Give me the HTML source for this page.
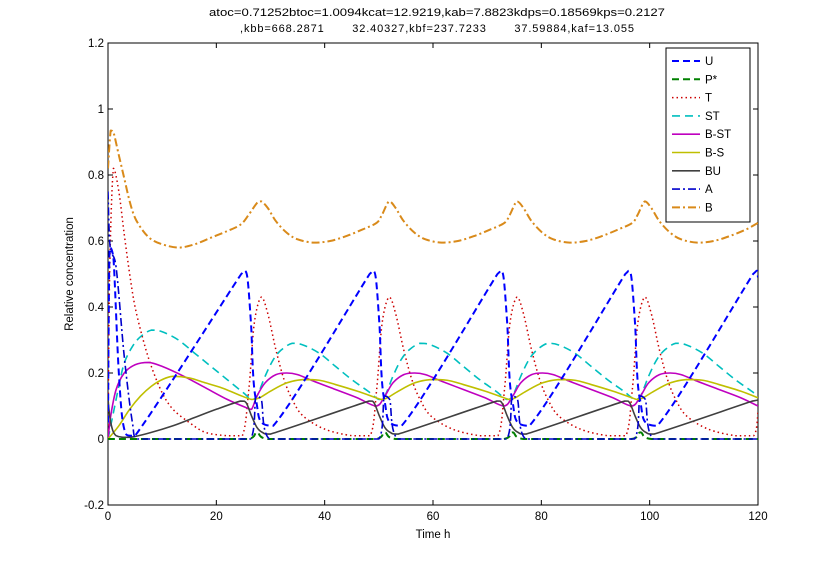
<!DOCTYPE html>
<html><head><meta charset="utf-8"><style>
body{margin:0;background:#fff;}
svg{display:block;font-family:"Liberation Sans",Arial,sans-serif;}
</style></head><body>
<svg id="chart" width="838" height="568" viewBox="0 0 838 568">
<rect x="0" y="0" width="838" height="568" fill="#fff"/>
<text x="437" y="16" font-size="11" text-anchor="middle" textLength="456" lengthAdjust="spacingAndGlyphs">atoc=0.71252btoc=1.0094kcat=12.9219,kab=7.8823kdps=0.18569kps=0.2127</text>
<text x="437" y="32" font-size="11" text-anchor="middle" textLength="394" lengthAdjust="spacing" style="white-space:pre" xml:space="preserve">,kbb=668.2871       32.40327,kbf=237.7233       37.59884,kaf=13.055</text>
<g id="axes"></g>
<g id="series"></g>
<g id="legend"></g>
<text x="433" y="538" font-size="11.5" text-anchor="middle">Time h</text>
<text transform="translate(73,274) rotate(-90)" font-size="11.5" text-anchor="middle">Relative concentration</text>
</svg>
<script>
const xTicks=[0,20,40,60,80,100,120];
const yTicks=[-0.2,0,0.2,0.4,0.6,0.8,1,1.2];
const yTickLabels=["-0.2","0","0.2","0.4","0.6","0.8","1","1.2"];
const seriesNames=["U","P*","T","ST","B-ST","B-S","BU","A","B"];
const tU=[0,0.3,1,2,3,5,24.6,25.3,25.8,26.4,27.3,30.5,48.3,49,49.5,50.1,51,54.2,71.9,72.6,73.1,73.7,74.6,77.8,95.5,96.2,96.7,97.3,98.2,101.4,119.1,119.8,120];
const vU=[0.05,0.58,0.55,0.2,0.03,0.01,0.5,0.51,0.48,0.35,0.12,0.04,0.5,0.51,0.48,0.35,0.12,0.04,0.5,0.51,0.48,0.35,0.12,0.04,0.5,0.51,0.48,0.35,0.12,0.04,0.5,0.51,0.49];
const tP=[0,25.8,27.5,29.5,49.4,51.1,53.1,73,74.7,76.7,96.6,98.3,100.3,120];
const vP=[0,0,0.02,0,0,0.02,0,0,0.02,0,0,0.02,0,0];
const tT=[0,0.3,1,2,3,4,5,6.5,8,10,12,15,18,22,24.8,26,27,28.3,29.5,31,32.5,34,36,40,45,48.4,49.6,50.6,51.9,53.1,54.6,56.1,57.6,59.6,63.6,68.6,72,73.2,74.2,75.5,76.7,78.2,79.7,81.2,83.2,87.2,92.2,95.6,96.8,97.8,99.1,100.3,101.8,103.3,104.8,106.8,110.8,115.8,119.2,120];
const vT=[0,0.5,0.82,0.75,0.62,0.5,0.4,0.3,0.22,0.14,0.09,0.05,0.02,0.01,0.01,0.15,0.35,0.43,0.38,0.27,0.18,0.12,0.07,0.03,0.01,0.01,0.15,0.35,0.43,0.38,0.27,0.18,0.12,0.07,0.03,0.01,0.01,0.15,0.35,0.43,0.38,0.27,0.18,0.12,0.07,0.03,0.01,0.01,0.15,0.35,0.43,0.38,0.27,0.18,0.12,0.07,0.03,0.01,0.01,0.08];
const tST=[0,1,2,3,4.5,6,8,10,13,16,19,22,25,26.5,27.5,29,30.5,32,34,36,39,42,45,48,50,51.1,52.6,54.1,55.6,57.6,59.6,62.6,65.6,68.6,71.6,73.6,74.7,76.2,77.7,79.2,81.2,83.2,86.2,89.2,92.2,95.2,97.2,98.3,99.8,101.3,102.8,104.8,106.8,109.8,112.8,115.8,118.8,120];
const vST=[0,0.08,0.16,0.23,0.28,0.31,0.33,0.325,0.3,0.26,0.22,0.18,0.14,0.12,0.13,0.19,0.24,0.27,0.29,0.285,0.26,0.22,0.18,0.145,0.12,0.13,0.19,0.24,0.27,0.29,0.285,0.26,0.22,0.18,0.145,0.12,0.13,0.19,0.24,0.27,0.29,0.285,0.26,0.22,0.18,0.145,0.12,0.13,0.19,0.24,0.27,0.29,0.285,0.26,0.22,0.18,0.145,0.13];
const tBST=[0,0.5,1.5,3,5,7.5,10,14,18,22,25.5,26.5,27.5,29,31,33,35,38,42,46,49.5,51.1,52.6,54.6,56.6,58.6,61.6,65.6,69.6,73.1,74.7,76.2,78.2,80.2,82.2,85.2,89.2,93.2,96.7,98.3,99.8,101.8,103.8,105.8,108.8,112.8,116.8,120];
const vBST=[0,0.07,0.15,0.2,0.225,0.232,0.22,0.19,0.155,0.12,0.095,0.09,0.13,0.17,0.195,0.2,0.195,0.175,0.15,0.125,0.1,0.13,0.17,0.195,0.2,0.195,0.175,0.15,0.125,0.1,0.13,0.17,0.195,0.2,0.195,0.175,0.15,0.125,0.1,0.13,0.17,0.195,0.2,0.195,0.175,0.15,0.125,0.1];
const tBS=[0,2,4,6,8,10,12,15,18,21,24,26.5,28,30,33,36,39,42,46,49.5,50.5,51.6,53.6,56.6,59.6,62.6,65.6,69.6,73.1,74.1,75.2,77.2,80.2,83.2,86.2,89.2,93.2,96.7,97.7,98.8,100.8,103.8,106.8,109.8,112.8,116.8,120];
const vBS=[0,0.04,0.09,0.13,0.16,0.18,0.19,0.185,0.17,0.155,0.135,0.12,0.125,0.145,0.17,0.18,0.178,0.165,0.145,0.125,0.12,0.125,0.145,0.17,0.18,0.178,0.165,0.145,0.125,0.12,0.125,0.145,0.17,0.18,0.178,0.165,0.145,0.125,0.12,0.125,0.145,0.17,0.18,0.178,0.165,0.145,0.125];
const tBU=[0,0.5,1.5,4,8,12,16,20,24.5,25.5,26.5,27.5,28.5,30,48.2,49.1,50.1,51.1,52.1,53.6,71.8,72.7,73.7,74.7,75.7,77.2,95.4,96.3,97.3,98.3,99.3,100.8,119,120];
const vBU=[0.12,0.05,0.01,0.005,0.02,0.04,0.065,0.09,0.115,0.11,0.07,0.035,0.02,0.015,0.115,0.11,0.07,0.035,0.02,0.015,0.115,0.11,0.07,0.035,0.02,0.015,0.115,0.11,0.07,0.035,0.02,0.015,0.115,0.118];
const tA=[0,0.4,1.5,3,4.5,5.5,26.3,27.3,28.3,29.8,50,51,52,53.5,73.6,74.6,75.6,77.1,97.2,98.2,99.2,100.7,120];
const vA=[0.75,0.58,0.52,0.25,0.05,0,0,0.13,0.12,0,0,0.13,0.12,0,0,0.13,0.12,0,0,0.13,0.12,0,0];
const tB=[0,0.5,1,2,3,4,5,6.5,8,10,13,16,19,22,24.5,26,27.5,28.3,29.5,31,33,35,38,41,44,47,49.6,50.6,51.9,53.1,54.6,56.6,58.6,61.6,64.6,67.6,70.6,73.2,74.2,75.5,76.7,78.2,80.2,82.2,85.2,88.2,91.2,94.2,96.8,97.8,99.1,100.3,101.8,103.8,105.8,108.8,111.8,114.8,117.8,120];
const vB=[0.82,0.935,0.93,0.86,0.79,0.72,0.67,0.63,0.605,0.59,0.58,0.59,0.61,0.63,0.65,0.68,0.715,0.72,0.7,0.66,0.625,0.605,0.595,0.6,0.615,0.635,0.655,0.68,0.72,0.7,0.66,0.625,0.605,0.595,0.6,0.615,0.635,0.655,0.68,0.72,0.7,0.66,0.625,0.605,0.595,0.6,0.615,0.635,0.655,0.68,0.72,0.7,0.66,0.625,0.605,0.595,0.6,0.615,0.635,0.655];

const NS="http://www.w3.org/2000/svg";
const L=108,R=758,T=43,B=505;
const xS=t=>L+(t-0)/(120-0)*(R-L);
const yS=v=>B-(v-(-0.2))/(1.4)*(B-T);
function mk(tag,attrs,parent){const e=document.createElementNS(NS,tag);for(const k in attrs)e.setAttribute(k,attrs[k]);parent.appendChild(e);return e;}
const axes=document.getElementById('axes');
const frame=mk('rect',{x:L,y:T,width:R-L,height:B-T,fill:'none',stroke:'#000','stroke-width':1},axes);


xTicks.forEach(t=>{
  const x=xS(t);
  const tk=mk('path',{d:`M${x},${B}v-5M${x},${T}v5`,stroke:'#000','stroke-width':1},axes);
  
  
  const lb=mk('text',{x:x,y:B+15,'font-size':11.5,'text-anchor':'middle'},axes);
  lb.textContent=String(t);
  
  
});
yTicks.forEach((v,i)=>{
  const y=yS(v);
  const tk=mk('path',{d:`M${L},${y}h5M${R},${y}h-5`,stroke:'#000','stroke-width':1},axes);
  
  
  const lb=mk('text',{x:L-4,y:y+4,'font-size':11.5,'text-anchor':'end'},axes);
  lb.textContent=yTickLabels[i];
  
  
});
const styles=[
 {c:'#0000ff',d:'7,4',w:2},{c:'#008000',d:'7,4',w:2},{c:'#cc0000',d:'1.5,3',w:1.5},
 {c:'#00bfbf',d:'8,5',w:1.6},{c:'#bf00bf',d:'',w:1.6},{c:'#bfbf00',d:'',w:1.6},
 {c:'#404040',d:'',w:1.6},{c:'#0000cc',d:'8,3,2,3',w:1.6},{c:'#d98a1a',d:'8,3,2,3',w:2}];
const data=[[tU,vU],[tP,vP],[tT,vT],[tST,vST],[tBST,vBST],[tBS,vBS],[tBU,vBU],[tA,vA],[tB,vB]];
const drawOrder=[8,2,3,4,5,6,1,7,0];
function clampv(v,a,b){return Math.min(Math.max(v,Math.min(a,b)),Math.max(a,b));}
function pathFor(ts,vs){
  const p=ts.map((t,i)=>[xS(t),yS(vs[i])]);
  let d=`M${p[0][0].toFixed(2)},${p[0][1].toFixed(2)}`;
  for(let i=0;i<p.length-1;i++){
    const p0=p[Math.max(0,i-1)],p1=p[i],p2=p[i+1],p3=p[Math.min(p.length-1,i+2)];
    const c1=[p1[0]+(p2[0]-p0[0])/6,p1[1]+(p2[1]-p0[1])/6];
    const c2=[p2[0]-(p3[0]-p1[0])/6,p2[1]-(p3[1]-p1[1])/6];
    c1[0]=clampv(c1[0],p1[0],p2[0]);c2[0]=clampv(c2[0],p1[0],p2[0]);
    c1[1]=clampv(c1[1],p1[1],p2[1]);c2[1]=clampv(c2[1],p1[1],p2[1]);
    d+=`C${c1[0].toFixed(2)},${c1[1].toFixed(2)} ${c2[0].toFixed(2)},${c2[1].toFixed(2)} ${p2[0].toFixed(2)},${p2[1].toFixed(2)}`;
  }
  return d;
}
const sg=document.getElementById('series');
mk('clipPath',{id:'clip'},sg).appendChild(document.createElementNS(NS,'rect'));
const cr=sg.querySelector('#clip rect');cr.setAttribute('x',L);cr.setAttribute('y',T);cr.setAttribute('width',R-L);cr.setAttribute('height',B-T);
drawOrder.forEach(i=>{
  const s=styles[i];
  const el=mk('path',{d:pathFor(data[i][0],data[i][1]),fill:'none',stroke:s.c,'stroke-width':s.w,'stroke-dasharray':s.d||'none','clip-path':'url(#clip)','stroke-linejoin':'round'},sg);
  
  
});
const lg=document.getElementById('legend');
const box=mk('rect',{x:666,y:48,width:84,height:174,fill:'#fff',stroke:'#000','stroke-width':1},lg);


seriesNames.forEach((n,i)=>{
  const y=61+i*18.3,s=styles[i];
  const g=mk('g',{},lg);
  
  
  mk('line',{x1:672,x2:700,y1:y,y2:y,stroke:s.c,'stroke-width':s.w,'stroke-dasharray':s.d||'none'},g);
  const t=mk('text',{x:705,y:y+4,'font-size':11.5},g);
  t.textContent=n;
});
</script>
</body></html>
